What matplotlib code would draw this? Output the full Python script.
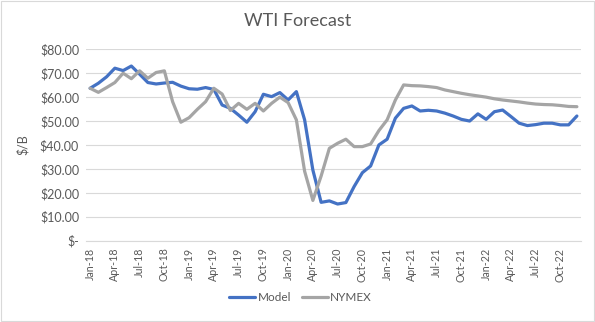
"""WTI price forecast: model vs NYMEX strip, monthly 2018-2022."""
import matplotlib.pyplot as plt

plt.rcParams['font.family'] = ['Lato', 'DejaVu Sans']

months = [f"{m}-{y}" for y in range(18, 23)
          for m in ['Jan', 'Feb', 'Mar', 'Apr', 'May', 'Jun',
                    'Jul', 'Aug', 'Sep', 'Oct', 'Nov', 'Dec']]

model = [63.7, 65.8, 68.5, 72.1, 71.1, 73.0, 69.6, 66.1, 65.5, 65.9,
         66.2, 64.6, 63.5, 63.3, 64.0, 63.2, 56.7, 55.3, 52.5, 49.5,
         53.9, 61.2, 60.2, 61.9, 58.8, 62.3, 50.5, 29.5, 16.0, 16.6,
         15.3, 15.9, 22.6, 28.4, 31.2, 40.0, 42.4, 51.2, 55.3, 56.3,
         54.2, 54.5, 54.2, 53.3, 52.1, 50.7, 50.0, 53.0, 50.7, 53.9,
         54.6, 51.9, 49.1, 48.1, 48.5, 49.1, 49.1, 48.4, 48.4, 52.1]

nymex = [63.7, 62.0, 64.0, 66.1, 70.0, 67.7, 71.0, 67.9, 70.3, 71.0,
         58.1, 49.5, 51.4, 54.9, 58.1, 63.7, 61.3, 54.4, 57.4, 54.9,
         57.4, 54.2, 57.4, 60.0, 57.7, 50.5, 29.0, 16.8, 27.0, 38.6,
         40.7, 42.4, 39.3, 39.3, 40.4, 46.0, 50.5, 58.8, 65.1, 64.8,
         64.7, 64.4, 64.0, 63.0, 62.3, 61.6, 61.0, 60.5, 60.0, 59.3,
         58.8, 58.4, 58.0, 57.5, 57.1, 56.9, 56.8, 56.5, 56.1, 56.0]

yticks = [0, 10, 20, 30, 40, 50, 60, 70, 80]
ytick_labels = ['$-'] + [f'${v:.2f}' for v in yticks[1:]]

text_gray = '#595959'
grid_gray = '#d9d9d9'

fig = plt.figure(figsize=(5.95, 3.22), dpi=100)
ax = fig.add_axes([0.1445, 0.2528, 0.832, 0.5941])

x = list(range(len(months)))
ax.plot(x, model, color='#4472C4', lw=2.3, label='Model', solid_capstyle='round')
ax.plot(x, nymex, color='#A5A5A5', lw=2.3, label='NYMEX', solid_capstyle='round')

ax.set_xlim(-0.5, len(months) - 0.5)
ax.set_ylim(0, 80)
ax.set_yticks(yticks)
ax.set_yticklabels(ytick_labels, fontsize=9, color=text_gray)
ax.set_xticks(x[::3])
ax.set_xticklabels(months[::3], rotation=90, fontsize=7.7, color=text_gray)
ax.tick_params(length=0, pad=5)
ax.grid(axis='y', color=grid_gray, lw=0.8)
ax.set_axisbelow(True)
for side in ['top', 'right', 'left']:
    ax.spines[side].set_visible(False)
ax.spines['bottom'].set_color(grid_gray)
ax.spines['bottom'].set_linewidth(0.8)

ax.set_ylabel('$/B', fontsize=9, color=text_gray, labelpad=8)
fig.text(0.5, 0.935, 'WTI Forecast', ha='center', va='center',
         fontsize=13, color=text_gray)

fig.legend(loc='center', bbox_to_anchor=(0.505, 0.075), ncol=2, frameon=False,
           fontsize=8.5, labelcolor=text_gray, handlelength=2.2,
           handletextpad=0.2, columnspacing=0.9)

# light chart-area border
fig.patches.append(plt.Rectangle((0.002, 0.003), 0.996, 0.994, transform=fig.transFigure,
                                 fill=False, edgecolor='#d9d9d9', lw=0.8))

fig.savefig('out.png', dpi=100, facecolor='white')
